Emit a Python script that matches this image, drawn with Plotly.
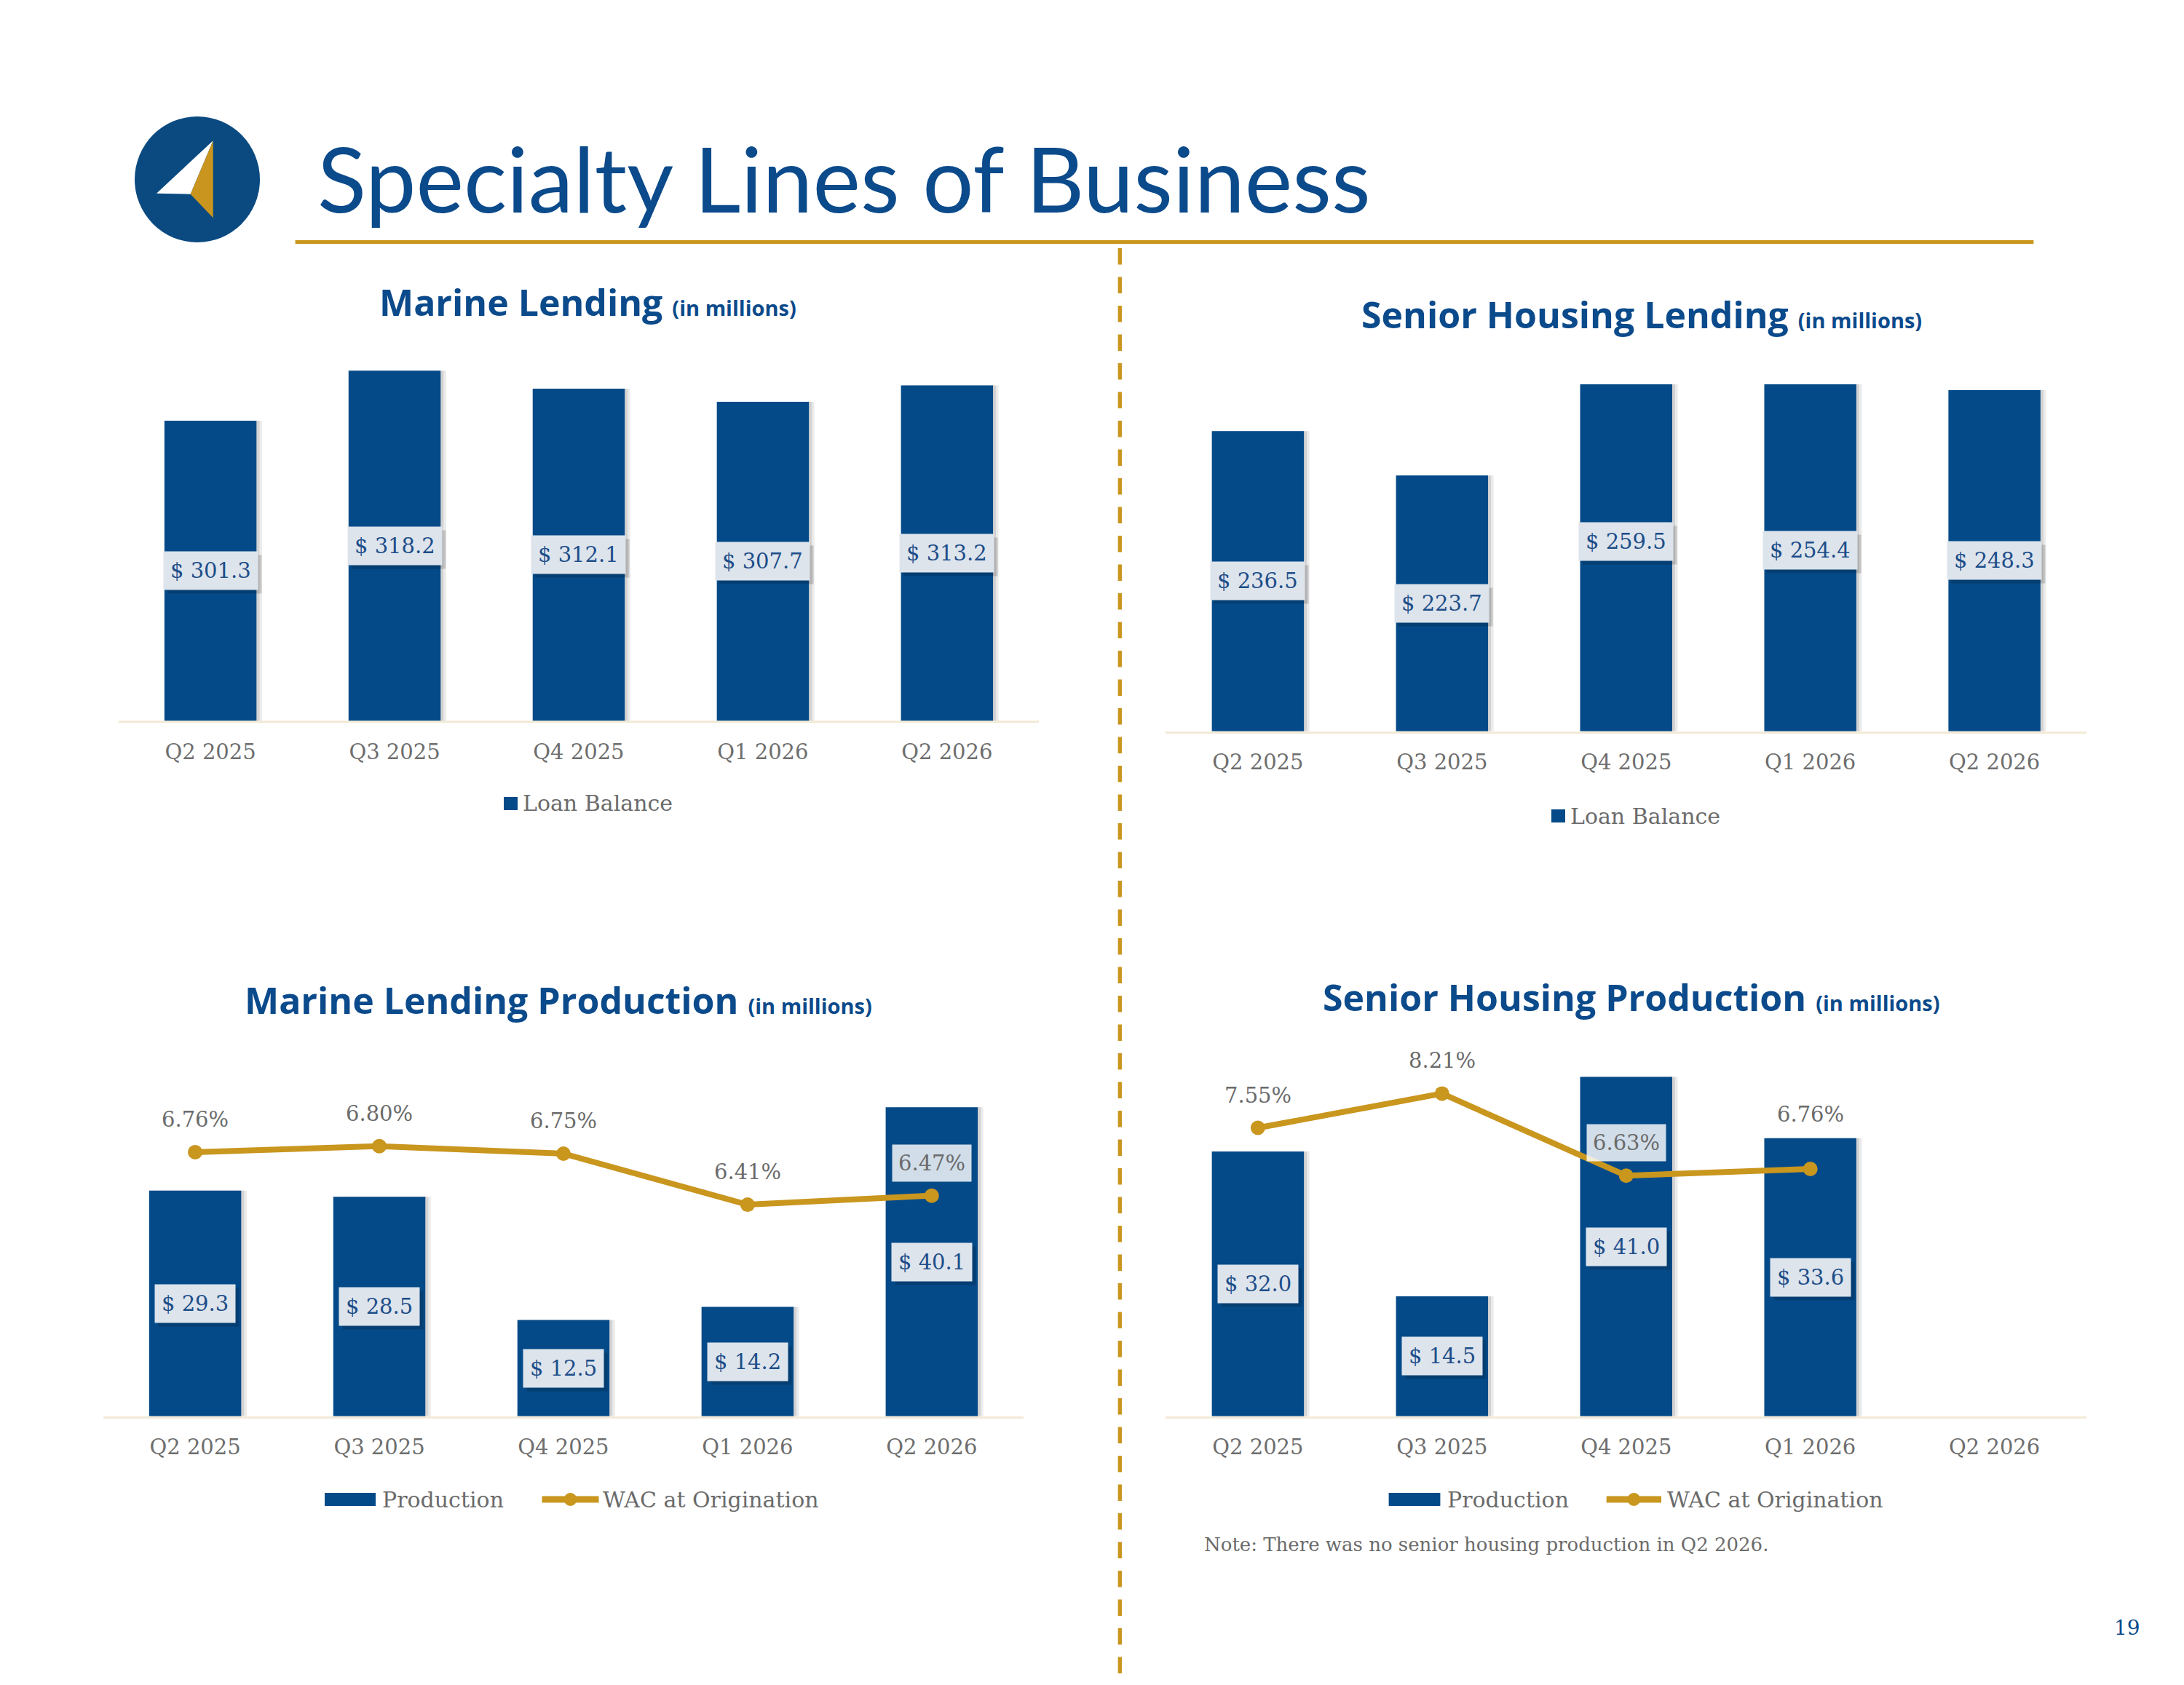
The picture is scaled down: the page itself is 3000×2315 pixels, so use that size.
import plotly.graph_objects as go

W, H = 3000, 2315

# ---------------- data ----------------
quarters = ["Q2 2025", "Q3 2025", "Q4 2025", "Q1 2026", "Q2 2026"]
marine_balance = [301.3, 318.2, 312.1, 307.7, 313.2]
senior_balance = [236.5, 223.7, 259.5, 254.4, 248.3]
marine_production = [29.3, 28.5, 12.5, 14.2, 40.1]
marine_wac = [6.76, 6.80, 6.75, 6.41, 6.47]
senior_production = [32.0, 14.5, 41.0, 33.6, None]
senior_wac = [7.55, 8.21, 6.63, 6.76, None]

# ---------------- styles ----------------
BLUE = "#054a88"
TITLE_BLUE = "#0b4a8b"
LABEL_BLUE = "#1d4e89"
GOLD = "#c9961e"
GRAY = "#6b6b6b"
BOX = "#dde4ec"
SERIF = "DejaVu Serif"
SANS_B = "Open Sans"


def px(x):
    return x / W


def py(y):
    return 1 - y / H


fig = go.Figure()

# panel geometry in page pixels: (x0, x1, y_bottom, y_top)
panels = {
    "A": dict(dom=(162.6, 1427.3, 990.0, 461.3), rng=(200, 330)),
    "B": dict(dom=(1601.4, 2866.1, 1004.5, 528.0), rng=(150, 250)),
    "C": dict(dom=(141.6, 1406.3, 1945.8, 1469.5), rng=(0, 45), rng2=(5.0, 7.31)),
    "D": dict(dom=(1601.4, 2866.1, 1945.8, 1434.1), rng=(0, 45), rng2=(2.0, 9.167)),
}
axis_ids = {"A": ("x", "y"), "B": ("x2", "y2"), "C": ("x3", "y3"), "D": ("x4", "y4")}
sec_ids = {"C": "y5", "D": "y6"}
series = {
    "A": (marine_balance, None),
    "B": (senior_balance, None),
    "C": (marine_production, marine_wac),
    "D": (senior_production, senior_wac),
}
wac_shift = {"C": [45, 45, 45, 45, 45], "D": [45, 45, 45, 75, 45]}

annotations = []
shapes = []

for key, p in panels.items():
    xa, ya = axis_ids[key]
    vals, wac = series[key]
    # bar shadows
    for off, alpha in ((0.030, 0.08), (0.016, 0.10)):
        fig.add_trace(go.Bar(x=quarters, y=vals, xaxis=xa, yaxis=ya, width=0.5,
                             offset=-0.25 + off, marker=dict(color=f"rgba(0,0,0,{alpha})", line=dict(width=0)),
                             hoverinfo="skip", showlegend=False))
    fig.add_trace(go.Bar(x=quarters, y=vals, xaxis=xa, yaxis=ya, width=0.5, offset=-0.25,
                         marker=dict(color=BLUE, line=dict(width=0)), showlegend=False,
                         name="Production" if wac else "Loan Balance"))
    lo = p["rng"][0]
    for q, v in zip(quarters, vals):
        if v is None:
            continue
        txt = f"$ {v:.1f}"
        common = dict(x=q, y=(lo + v) / 2, xref=xa, yref=ya, showarrow=False, borderpad=9,
                      font=dict(family=SERIF, size=29))
        annotations.append(dict(common, text=txt, xshift=5, yshift=-5, bgcolor="rgba(0,0,0,0.16)",
                                font=dict(family=SERIF, size=29, color="rgba(0,0,0,0)")))
        annotations.append(dict(common, text=txt, bgcolor=BOX, font=dict(family=SERIF, size=29, color=LABEL_BLUE)))
    if wac:
        y2 = sec_ids[key]
        fig.add_trace(go.Scatter(x=quarters, y=wac, xaxis=xa, yaxis=y2, mode="lines+markers",
                                 line=dict(color=GOLD, width=8), marker=dict(color=GOLD, size=20),
                                 connectgaps=False, showlegend=False, name="WAC at Origination"))
        for q, v, s in zip(quarters, wac, wac_shift[key]):
            if v is None:
                continue
            annotations.append(dict(x=q, y=v, xref=xa, yref=y2, yshift=s, showarrow=False,
                                    text=f"{v:.2f}%", bgcolor="rgba(255,255,255,0.82)", borderpad=8,
                                    font=dict(family=SERIF, size=29, color=GRAY)))

layout_axes = {}
for i, key in enumerate(["A", "B", "C", "D"], start=1):
    x0, x1, yb, yt = panels[key]["dom"]
    sfx = "" if i == 1 else str(i)
    layout_axes["xaxis" + sfx] = dict(domain=[px(x0), px(x1)], anchor="y" + sfx, range=[-0.5, 4.5],
                                      showline=True, linecolor="#f2ead6", linewidth=2.5, ticks="",
                                      showgrid=False, zeroline=False, ticklabelstandoff=15,
                                      tickfont=dict(family=SERIF, size=29, color="#6e6e6e"), fixedrange=True)
    layout_axes["yaxis" + sfx] = dict(domain=[py(yb), py(yt)], anchor="x" + sfx, range=list(panels[key]["rng"]),
                                      visible=False, showgrid=False, zeroline=False)
layout_axes["yaxis5"] = dict(overlaying="y3", anchor="x3", side="right", range=list(panels["C"]["rng2"]),
                             visible=False, showgrid=False, zeroline=False)
layout_axes["yaxis6"] = dict(overlaying="y4", anchor="x4", side="right", range=list(panels["D"]["rng2"]),
                             visible=False, showgrid=False, zeroline=False)

# ---------------- titles ----------------
def chart_title(main, cx, cy):
    return dict(x=px(cx), y=py(cy), xref="paper", yref="paper", showarrow=False, xanchor="center",
                yanchor="middle",
                text=f"<b>{main}</b> <b><span style='font-size:29px'>(in millions)</span></b>",
                font=dict(family=SANS_B, size=50, color=TITLE_BLUE))

annotations += [
    chart_title("Marine Lending", 807.4, 415),
    chart_title("Senior Housing Lending", 2254.8, 432),
    chart_title("Marine Lending Production", 767.2, 1374),
    chart_title("Senior Housing Production", 2241.4, 1370),
    dict(x=px(434), y=py(244), xref="paper", yref="paper", showarrow=False, xanchor="left", yanchor="middle",
         text="Specialty Lines of Business", font=dict(family="Lato", size=124, color=TITLE_BLUE)),
    dict(x=px(1652), y=py(2122), xref="paper", yref="paper", showarrow=False, xanchor="left", yanchor="middle",
         text="Note: There was no senior housing production in Q2 2026.",
         font=dict(family=SERIF, size=26, color=GRAY)),
    dict(x=px(2922), y=py(2236), xref="paper", yref="paper", showarrow=False, xanchor="center", yanchor="middle",
         text="19", font=dict(family=SERIF, size=28, color=TITLE_BLUE)),
]

# ---------------- manual legends ----------------
def legend_text(txt, x, y):
    return dict(x=px(x), y=py(y), xref="paper", yref="paper", showarrow=False, xanchor="left",
                yanchor="middle", text=txt, font=dict(family=SERIF, size=30, color=GRAY))


def rect(x0, x1, y0, y1, color):
    return dict(type="rect", xref="paper", yref="paper", x0=px(x0), x1=px(x1), y0=py(y0), y1=py(y1),
                fillcolor=color, line=dict(width=0), layer="above")


# Loan balance legends
shapes.append(rect(692, 711, 1095, 1113, BLUE))
annotations.append(legend_text("Loan Balance", 716, 1104))
shapes.append(rect(2131, 2150, 1112, 1130, BLUE))
annotations.append(legend_text("Loan Balance", 2155, 1121))

for (r0, r1, t1, l0, l1, t2) in [(446, 516, 523, 744.5, 822.5, 826),
                                   (1907.6, 1978.4, 1986, 2206.7, 2282, 2288)]:
    yc = 2060
    shapes.append(rect(r0, r1, yc - 9, yc + 9, BLUE))
    annotations.append(legend_text("Production", t1, yc))
    shapes.append(dict(type="line", xref="paper", yref="paper", x0=px(l0), x1=px(l1), y0=py(yc), y1=py(yc),
                       line=dict(color=GOLD, width=9)))
    mx = (l0 + l1) / 2
    shapes.append(dict(type="circle", xref="paper", yref="paper", x0=px(mx - 9), x1=px(mx + 9),
                       y0=py(yc + 9), y1=py(yc - 9), fillcolor=GOLD, line=dict(width=0)))
    annotations.append(legend_text("WAC at Origination", t2, yc))

# ---------------- decorations ----------------
shapes.append(dict(type="line", xref="paper", yref="paper", x0=px(405.6), x1=px(2793.4), y0=py(332.5),
                   y1=py(332.5), line=dict(color=GOLD, width=5)))
shapes.append(dict(type="line", xref="paper", yref="paper", x0=px(1538.3), x1=px(1538.3), y0=py(341),
                   y1=py(2305), line=dict(color=GOLD, width=5.3, dash="22.5px,17px")))

# logo
shapes.append(dict(type="circle", xref="paper", yref="paper", x0=px(185), x1=px(357), y0=py(333), y1=py(160),
                   fillcolor="#0a4a80", line=dict(width=0)))


def path(pts):
    return "M " + " L ".join(f"{px(a):.5f},{py(b):.5f}" for a, b in pts) + " Z"


shapes.append(dict(type="path", xref="paper", yref="paper",
                   path=path([(292.7, 193.3), (215, 265.7), (261.7, 266.7)]), fillcolor="white", line=dict(width=0)))
shapes.append(dict(type="path", xref="paper", yref="paper",
                   path=path([(292.7, 193.3), (261.7, 266.7), (292.7, 299.3)]), fillcolor="#c9951f",
                   line=dict(width=0)))

fig.update_layout(width=W, height=H, margin=dict(l=0, r=0, t=0, b=0), paper_bgcolor="white",
                  plot_bgcolor="rgba(0,0,0,0)", showlegend=False, barmode="overlay",
                  annotations=annotations, shapes=shapes, **layout_axes)

fig.write_html("out.html")
